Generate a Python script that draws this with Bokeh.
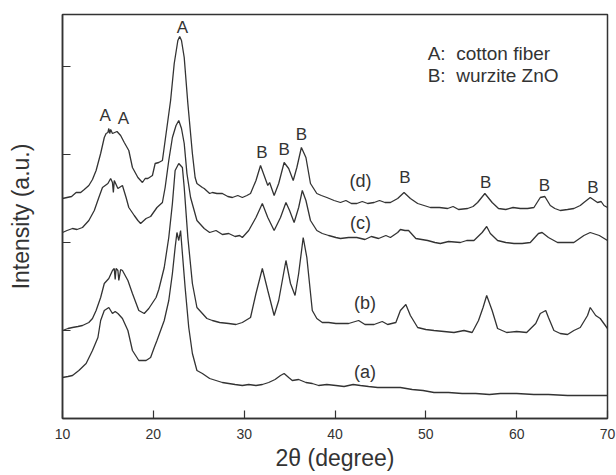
from bokeh.plotting import figure
from bokeh.models import Range1d, FixedTicker
from bokeh.core.properties import value
from bokeh.embed import file_html
from bokeh.resources import INLINE

# XRD patterns of cotton fabric samples, stacked with vertical offsets (a.u.)
two_theta_a = [10.0, 10.6, 11.1, 11.8, 12.6, 13.3, 13.9, 14.2, 14.6, 15.1, 15.5, 15.8, 16.1, 16.6,
               17.2, 17.7, 18.4, 19.2, 19.7, 20.1, 20.4, 21.2, 21.7, 22.1, 22.4, 22.6, 22.8, 23.0,
               23.2, 23.5, 23.9, 24.3, 24.8, 25.4, 26.2, 26.9, 27.6, 28.3, 29.0, 29.8, 30.5, 31.3,
               32.0, 32.7, 33.4, 34.0, 34.4, 34.9, 35.3, 36.0, 36.8, 37.5, 38.2, 39.1, 40.1, 41.0,
               42.0, 42.8, 43.7, 44.7, 46.0, 47.2, 48.5, 49.7, 50.9, 52.5, 54.0, 55.5, 57.0, 58.2,
               60.0, 61.9, 63.5, 65.6, 67.5, 70.0]
intensity_a = [41, 42, 43, 48, 55, 68, 81, 98, 108, 111, 105, 107, 105, 100,
               88, 68, 58, 58, 61, 71, 78, 98, 118, 145, 171, 186, 178, 188,
               165, 131, 91, 65, 48, 45, 40, 38, 36, 35, 34, 33, 34, 33,
               34, 36, 39, 43, 45, 41, 38, 39, 36, 35, 33, 34, 33, 32,
               34, 33, 32, 31, 31, 31, 29, 28, 26, 26, 25, 25, 24, 25,
               25, 24, 24, 23, 23, 23]

two_theta_b = [10.0, 10.6, 11.1, 11.7, 12.2, 12.9, 13.3, 13.7, 14.2, 14.6, 15.1, 15.5, 15.7, 15.8,
               15.9, 16.1, 16.2, 16.4, 16.6, 17.2, 17.7, 18.4, 19.0, 19.5, 20.3, 20.6, 21.2, 21.7,
               22.1, 22.4, 22.8, 23.2, 23.4, 23.8, 24.3, 24.8, 25.4, 25.9, 26.5, 27.3, 28.3, 29.1,
               29.8, 30.7, 31.3, 32.0, 32.6, 33.3, 33.8, 34.6, 35.1, 35.6, 36.0, 36.5, 36.9, 37.5,
               38.0, 38.6, 39.3, 40.1, 40.6, 41.5, 42.6, 43.3, 44.3, 45.2, 45.8, 46.7, 47.2, 47.8,
               48.3, 49.1, 50.0, 50.9, 52.0, 53.1, 54.2, 55.1, 55.8, 56.3, 56.7, 57.3, 57.9, 58.9,
               60.0, 61.1, 62.1, 62.6, 63.2, 63.5, 64.1, 64.8, 65.6, 66.3, 67.0, 67.8, 68.1, 68.7,
               69.2, 69.6, 70.0]
intensity_b = [88, 90, 91, 92, 93, 96, 100, 108, 121, 135, 140, 148, 150, 139,
               150, 148, 138, 149, 148, 138, 125, 108, 105, 110, 121, 129, 151, 181,
               215, 248, 255, 251, 231, 181, 135, 111, 105, 100, 98, 96, 95, 94,
               96, 101, 125, 150, 128, 103, 118, 158, 135, 123, 145, 181, 161, 108,
               100, 96, 96, 95, 95, 95, 98, 94, 94, 97, 94, 96, 108, 114,
               103, 91, 89, 88, 87, 86, 88, 86, 98, 111, 123, 108, 90, 86,
               87, 86, 95, 105, 108, 101, 88, 85, 84, 88, 91, 103, 111, 103,
               100, 95, 90]

two_theta_c = [10.0, 10.5, 11.1, 11.6, 12.2, 12.9, 13.5, 14.0, 14.4, 15.0, 15.3, 15.5, 15.6, 15.7,
               16.1, 16.6, 17.0, 17.3, 17.9, 18.3, 18.6, 19.2, 19.7, 20.4, 21.0, 21.3, 21.7, 22.1,
               22.5, 22.8, 23.1, 23.4, 23.7, 24.1, 24.8, 25.2, 25.6, 26.2, 26.9, 27.6, 28.3, 29.0,
               29.5, 29.8, 30.5, 31.3, 32.0, 32.6, 33.3, 34.0, 34.6, 35.0, 35.5, 36.0, 36.4, 36.8,
               37.3, 38.0, 38.6, 39.3, 40.1, 40.6, 41.5, 42.4, 43.3, 44.0, 44.8, 45.6, 46.1, 46.9,
               47.2, 47.7, 48.1, 48.9, 50.2, 51.0, 51.6, 52.5, 53.8, 54.5, 55.3, 56.2, 56.7, 57.1,
               57.9, 58.8, 59.7, 60.6, 61.5, 62.4, 62.8, 63.5, 64.5, 65.4, 66.3, 67.4, 68.1, 69.1,
               70.0]
intensity_c = [186, 188, 190, 189, 191, 198, 208, 221, 231, 235, 240, 236, 226, 238,
               230, 233, 221, 211, 203, 198, 195, 200, 202, 211, 216, 231, 258, 281,
               293, 298, 290, 275, 245, 221, 198, 194, 190, 186, 188, 184, 185, 182,
               183, 181, 188, 201, 215, 201, 188, 201, 216, 208, 196, 211, 228, 218,
               198, 188, 185, 183, 181, 180, 181, 181, 179, 182, 180, 183, 181, 186,
               189, 188, 188, 180, 178, 176, 175, 177, 176, 178, 178, 186, 192, 185,
               178, 176, 175, 175, 176, 185, 186, 181, 176, 176, 176, 183, 186, 183,
               178]

two_theta_d = [10.0, 10.5, 11.0, 11.5, 12.0, 12.4, 12.9, 13.3, 13.7, 14.2, 14.6, 14.8, 15.0, 15.1,
               15.2, 15.3, 15.5, 16.0, 16.4, 16.8, 17.3, 17.7, 18.0, 18.3, 18.8, 19.1, 19.4, 19.9,
               20.2, 20.6, 21.0, 21.3, 21.9, 22.3, 22.7, 22.9, 23.1, 23.4, 23.8, 24.3, 24.6, 24.8,
               25.4, 25.6, 26.2, 26.5, 27.0, 27.6, 28.2, 28.7, 29.3, 29.8, 30.3, 30.7, 31.3, 31.8,
               32.2, 32.6, 32.8, 33.3, 33.8, 34.4, 34.9, 35.4, 35.8, 36.3, 36.8, 37.3, 38.0, 38.5,
               39.1, 39.9, 40.6, 41.2, 41.8, 42.4, 43.0, 43.6, 44.3, 44.9, 45.5, 46.1, 46.9, 47.6,
               48.3, 49.1, 49.8, 50.5, 51.5, 52.4, 53.0, 53.6, 54.6, 55.2, 55.7, 56.5, 57.3, 58.0,
               58.8, 59.6, 60.4, 61.2, 61.9, 62.6, 63.1, 63.7, 64.2, 64.8, 65.6, 66.3, 67.0, 67.4,
               68.1, 68.9, 69.3, 69.6, 70.0]
intensity_d = [220, 221, 222, 226, 226, 229, 233, 239, 248, 265, 281, 285, 286, 290,
               285, 289, 285, 287, 283, 276, 268, 251, 246, 241, 236, 240, 240, 243,
               255, 256, 258, 278, 318, 355, 378, 382, 378, 361, 315, 265, 241, 235,
               231, 230, 225, 226, 225, 225, 222, 221, 223, 221, 223, 225, 238, 253,
               243, 233, 236, 223, 235, 256, 250, 238, 251, 271, 261, 235, 225, 223,
               221, 218, 216, 218, 215, 215, 217, 215, 216, 218, 216, 216, 220, 226,
               220, 215, 213, 211, 211, 210, 212, 209, 210, 212, 216, 225, 216, 210,
               209, 211, 210, 210, 211, 221, 222, 213, 210, 208, 209, 210, 213, 216,
               221, 216, 217, 213, 211]

x_ticks = [10, 20, 30, 40, 50, 60, 70]
y_ticks = [88, 176, 264, 352]

# Peak assignments drawn above the curves: (2θ, intensity, text)
peak_label_x = [14.7, 16.7, 23.2, 31.95, 34.4, 36.3, 47.7, 56.6, 63.05, 68.4]
peak_label_y = [303, 300, 391, 266, 269, 284, 241, 236, 233, 231]
peak_label_text = ["A", "A", "A", "B", "B", "B", "B", "B", "B", "B"]

sample_label_x = [42.8, 42.8, 43.3, 43.3]
sample_label_y = [238, 196, 116, 47]
sample_label_text = ["(d)", "(c)", "(b)", "(a)"]

key_x = [50.2, 50.2]
key_y = [365, 343]
key_text = ["A:\u00a0\u00a0cotton fiber", "B:\u00a0\u00a0wurzite ZnO"]

INK = "#333333"
FONT = "Liberation Sans"

p = figure(width=616, height=475, output_backend="svg", toolbar_location=None,
           x_range=Range1d(10, 70), y_range=Range1d(0, 404),
           min_border_left=62, min_border_right=9, min_border_top=14, min_border_bottom=57)

for xs, ys in [(two_theta_a, intensity_a), (two_theta_b, intensity_b),
               (two_theta_c, intensity_c), (two_theta_d, intensity_d)]:
    p.line(xs, ys, line_color=INK, line_width=1.3)

p.text(peak_label_x, peak_label_y, text=peak_label_text, text_align="center",
       text_baseline="middle", text_font=value(FONT), text_font_size="17px", text_color=INK)
p.text(sample_label_x, sample_label_y, text=sample_label_text, text_align="center",
       text_baseline="middle", text_font=value(FONT), text_font_size="18px", text_color=INK)
p.text(key_x, key_y, text=key_text, text_align="left",
       text_baseline="middle", text_font=value(FONT), text_font_size="19px", text_color=INK)

p.xgrid.visible = False
p.ygrid.visible = False
p.outline_line_color = INK
p.outline_line_width = 1.5

for ax in (p.xaxis, p.yaxis):
    ax.axis_line_color = INK
    ax.axis_line_width = 1.5
    ax.major_tick_line_color = INK
    ax.major_tick_line_width = 1.2
    ax.major_tick_in = 8
    ax.major_tick_out = 0
    ax.minor_tick_line_color = None
    ax.axis_label_text_font = FONT
    ax.axis_label_text_font_style = "normal"
    ax.axis_label_text_color = INK
    ax.axis_label_text_font_size = "23px"

p.xaxis.ticker = FixedTicker(ticks=x_ticks)
p.xaxis.major_label_text_font = FONT
p.xaxis.major_label_text_font_size = "14px"
p.xaxis.major_label_text_color = INK
p.xaxis.major_label_standoff = 10
p.xaxis.axis_label = "2θ (degree)"
p.xaxis.axis_label_standoff = 3

p.yaxis.ticker = FixedTicker(ticks=y_ticks)
p.yaxis.major_label_overrides = {t: "" for t in y_ticks}
p.yaxis.major_label_standoff = 0
p.yaxis.axis_label = "Intensity (a.u.)"
p.yaxis.axis_label_standoff = 29

open("out.html", "w").write(file_html(p, INLINE))
